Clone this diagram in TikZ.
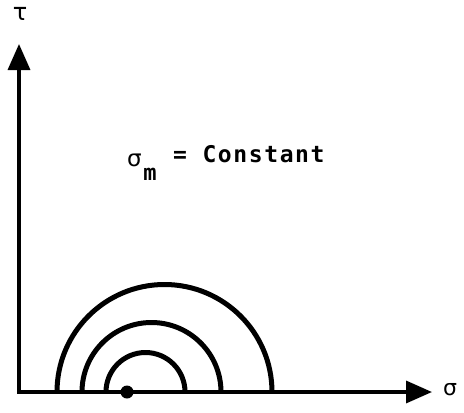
\documentclass[tikz,border=0pt]{standalone}
\usepackage{fontspec}
\usepackage{tikz}
\usetikzlibrary{arrows.meta,positioning}
\newfontfamily\lblfont[LetterSpace=7]{DejaVu Sans Mono}
\newfontfamily\grkfont{DejaVu Sans}

\begin{document}
\begin{tikzpicture}[x=1pt,y=-1pt,
  axis/.style={line width=3.5pt,-{Triangle[length=26pt,width=22pt]}},
  mohr/.style={line width=5pt}]
  \useasboundingbox (0,0) rectangle (464,413);
  \coordinate (O) at (19,393);
  \coordinate (xend) at (432,392);
  \coordinate (yend) at (19,44);
  \coordinate (xstart) at (17,392);
  \draw[axis] (O) -- (yend);
  \draw[axis] (xstart) -- (xend);
  \node[font=\grkfont\fontsize{22pt}{22pt}\selectfont,inner sep=0pt] (sig) at (450,390) {σ};
  \node[font=\grkfont\fontsize{24pt}{24pt}\selectfont,inner sep=0pt] (tau) at (20,14) {τ};
  \foreach \c/\r in {145.5/39.5,151.5/69.5,164.5/107.5}
    \draw[mohr] (\c-\r,392) arc[start angle=180,end angle=360,radius=\r];
  \node[circle,fill=black,inner sep=0pt,minimum size=13pt] (pm) at (127,392) {};
  \node[font=\grkfont\fontsize{23pt}{23pt}\selectfont,inner sep=0pt] (sm) at (134.5,160) {σ};
  \node[font=\lblfont\bfseries\fontsize{22pt}{22pt}\selectfont,inner sep=0pt] (msub) at (150,174) {m};
  \node[font=\lblfont\bfseries\fontsize{23pt}{23pt}\selectfont,anchor=base west,inner sep=0pt] (const) at (173,162) {= Constant};
\end{tikzpicture}
\end{document}
